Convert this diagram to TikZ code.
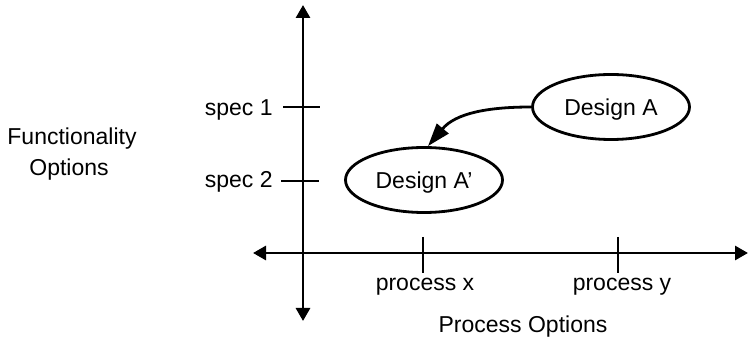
\documentclass[tikz,border=0pt]{standalone}
\usepackage{fontspec}
\setmainfont{Liberation Sans}
\usetikzlibrary{shapes.geometric,arrows.meta}
\begin{document}
\begin{tikzpicture}[x=1pt,y=-1pt,line width=2.8pt,
		lbl/.style={font=\fontsize{23}{27}\selectfont,inner sep=0pt},
		design/.style={draw,ellipse,minimum width=157pt,minimum height=65pt,inner sep=0pt,text depth=0pt,font=\fontsize{23}{27}\selectfont},
		axistip/.style={{Triangle[length=13pt,width=14pt]}-{Triangle[length=13pt,width=14pt]}}]
		\useasboundingbox (0,0) rectangle (749,344);
		\coordinate (top) at (303,5);
		\coordinate (bottom) at (303,321);
		\coordinate (left) at (253,253);
		\coordinate (right) at (748,253);
		\draw[axistip] (bottom) -- (top);
		\draw[axistip] (left) -- (right);
		\node[lbl,anchor=base east] (spec1) at (274,116) {spec 1};
		\node[lbl,anchor=base east] (spec2) at (274,188) {spec 2};
		\draw ([xshift=9pt]spec1.east |- 0,107) -- (320,107);
		\draw ([xshift=7pt]spec2.east |- 0,181) -- (319,181);
		\node[lbl,anchor=base] (func) at (72,145) {Functionality};
		\node[lbl,anchor=base] (fopts) at (69,176) {Options};
		\node[lbl,anchor=base] (px) at (425,291) {process x};
		\node[lbl,anchor=base] (py) at (622,291) {process y};
		\node[lbl,anchor=base] (popts) at (523,332) {Process Options};
		\draw (423,237) -- (423,273);
		\draw (618,237) -- (618,273);
		\node[design] (dA) at (611,107) {Design A};
		\node[design] (dAp) at (424,180) {Design A'};
		\draw[-{Triangle[length=23pt,width=15pt]}] (dA.west) to[out=180,in=50] ([xshift=4pt]dAp.north);
	\end{tikzpicture}
\end{document}
